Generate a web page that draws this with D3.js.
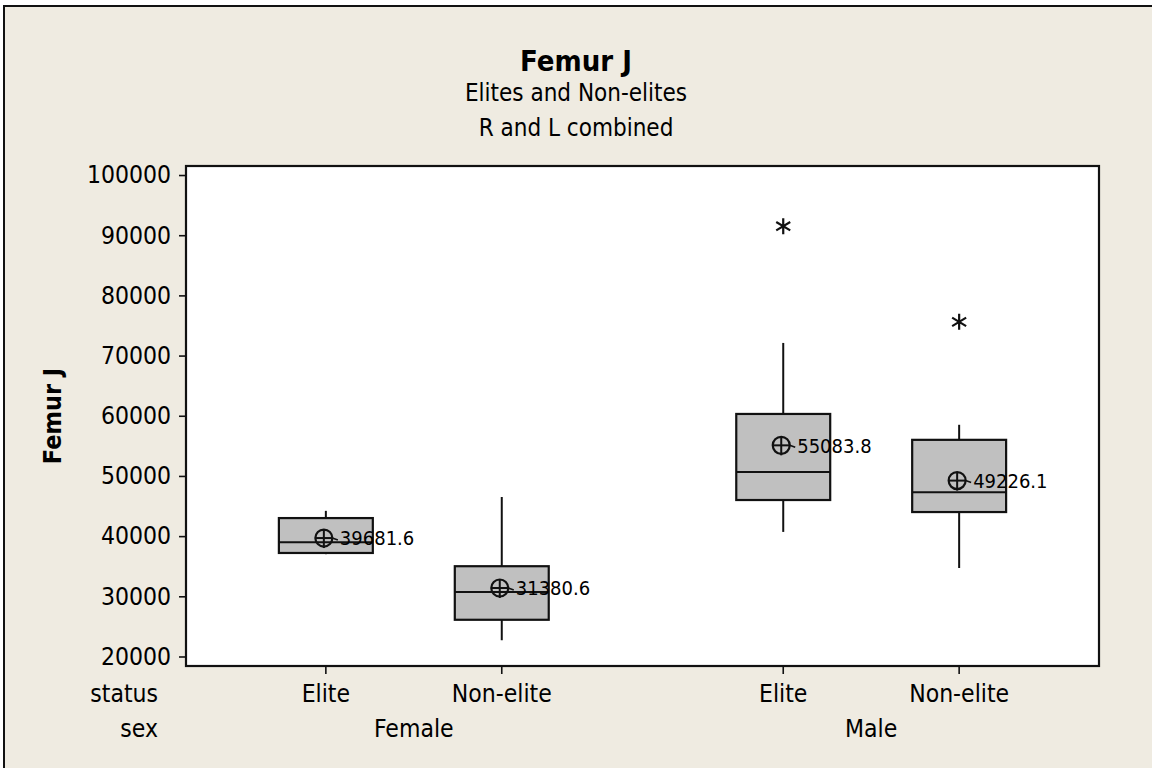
<!DOCTYPE html>
<html>
<head>
<meta charset="utf-8">
<script src="https://cdn.jsdelivr.net/npm/d3@7"></script>
<style>
  html, body { margin: 0; padding: 0; background: #ffffff; }
  svg text { font-family: "DejaVu Sans Condensed", "DejaVu Sans", "Liberation Sans", sans-serif; font-stretch: condensed; fill: #000; }
</style>
</head>
<body>
<svg id="chart" width="1152" height="768"></svg>
<script>
// ---- data ----
const sexes = ["Female", "Female", "Male", "Male"];
const statuses = ["Elite", "Non-elite", "Elite", "Non-elite"];
const q1 = [37200, 26100, 46000, 44000];
const medians = [39000, 30700, 50650, 47300];
const q3 = [43000, 35000, 60300, 56000];
const whiskerLow = [37000, 22700, 40700, 34700];
const whiskerHigh = [44200, 46500, 72100, 58500];
const means = [39681.6, 31380.6, 55083.8, 49226.1];
const outliers = [[], [], [91500], [75600]];
const yTicks = [20000, 30000, 40000, 50000, 60000, 70000, 80000, 90000, 100000];
const titleText = "Femur J";
const subtitles = ["Elites and Non-elites", "R and L combined"];
const yLabel = "Femur J";

// ---- layout ----
const svg = d3.select("#chart");
const W = 1152, H = 768;
const plot = { left: 186, right: 1099, top: 166, bottom: 666 };
const groupGap = 0.6;

// background frame
svg.append("rect").attr("x", 4).attr("y", 6).attr("width", W + 10).attr("height", H + 10)
  .attr("fill", "#efebe1").attr("stroke", "#111").attr("stroke-width", 2);

// position of each box along x (index + gap between sex groups)
const sexGroups = Array.from(new Set(sexes));
const pos = sexes.map((s, i) => i + 1 + sexGroups.indexOf(s) * groupGap);
const margin = 0.795;
const x = d3.scaleLinear().domain([d3.min(pos) - margin, d3.max(pos) + margin]).range([plot.left, plot.right]);
const y = d3.scaleLinear().domain([18420, 101500]).range([plot.bottom, plot.top]);
const boxW = x(0.534) - x(0);

// plot area
svg.append("rect").attr("x", plot.left).attr("y", plot.top)
  .attr("width", plot.right - plot.left).attr("height", plot.bottom - plot.top)
  .attr("fill", "#ffffff").attr("stroke", "#111").attr("stroke-width", 2.2);

// titles
svg.append("text").attr("x", 576).attr("y", 71).attr("text-anchor", "middle")
  .attr("font-size", 29).attr("font-weight", "bold").text(titleText);
svg.selectAll("text.sub").data(subtitles).join("text").attr("class", "sub")
  .attr("x", 576).attr("y", (d, i) => 101 + i * 35).attr("text-anchor", "middle")
  .attr("font-size", 24).text(d => d);

// y axis
const yAxis = d3.axisLeft(y).tickValues(yTicks).tickSize(7).tickPadding(8).tickFormat(d3.format("d"));
const gy = svg.append("g").attr("transform", `translate(${plot.left},0)`).call(yAxis);
gy.select(".domain").remove();
gy.selectAll(".tick line").attr("stroke", "#111").attr("stroke-width", 1.6);
gy.selectAll(".tick text").attr("font-size", 24.5).attr("font-family", null);

svg.append("text").attr("transform", `translate(61,416) rotate(-90)`)
  .attr("text-anchor", "middle").attr("font-size", 25).attr("font-weight", "bold").text(yLabel);

// x axis ticks + labels
const gx = svg.append("g");
gx.selectAll("line").data(pos).join("line")
  .attr("x1", d => x(d)).attr("x2", d => x(d)).attr("y1", plot.bottom).attr("y2", plot.bottom + 8)
  .attr("stroke", "#111").attr("stroke-width", 1.6);
gx.selectAll("text.status").data(statuses).join("text").attr("class", "status")
  .attr("x", (d, i) => x(pos[i])).attr("y", 702).attr("text-anchor", "middle")
  .attr("font-size", 24.5).text(d => d);
const groupCenters = sexGroups.map(g => d3.mean(pos.filter((p, i) => sexes[i] === g)));
gx.selectAll("text.sex").data(sexGroups).join("text").attr("class", "sex")
  .attr("x", (d, i) => x(groupCenters[i])).attr("y", 737).attr("text-anchor", "middle")
  .attr("font-size", 24.5).text(d => d);
svg.append("text").attr("x", 158).attr("y", 702).attr("text-anchor", "end").attr("font-size", 24.5).text("status");
svg.append("text").attr("x", 158).attr("y", 737).attr("text-anchor", "end").attr("font-size", 24.5).text("sex");

// boxes
const boxes = svg.append("g");
pos.forEach((p, i) => {
  const cx = x(p);
  const g = boxes.append("g");
  // whiskers
  g.append("line").attr("x1", cx).attr("x2", cx).attr("y1", y(q3[i])).attr("y2", y(whiskerHigh[i]))
    .attr("stroke", "#111").attr("stroke-width", 2);
  g.append("line").attr("x1", cx).attr("x2", cx).attr("y1", y(q1[i])).attr("y2", y(whiskerLow[i]))
    .attr("stroke", "#111").attr("stroke-width", 2);
  // box
  g.append("rect").attr("x", cx - boxW / 2).attr("y", y(q3[i]))
    .attr("width", boxW).attr("height", y(q1[i]) - y(q3[i]))
    .attr("fill", "#c0c0c0").attr("stroke", "#111").attr("stroke-width", 2.2);
  // median
  g.append("line").attr("x1", cx - boxW / 2).attr("x2", cx + boxW / 2)
    .attr("y1", y(medians[i])).attr("y2", y(medians[i]))
    .attr("stroke", "#111").attr("stroke-width", 2);
  // mean symbol
  const my = y(means[i]);
  const mx = cx - 2;
  g.append("circle").attr("cx", mx).attr("cy", my).attr("r", 8.5)
    .attr("fill", "none").attr("stroke", "#111").attr("stroke-width", 2.2);
  g.append("line").attr("x1", mx - 8.5).attr("x2", mx + 8.5).attr("y1", my).attr("y2", my)
    .attr("stroke", "#111").attr("stroke-width", 2);
  g.append("line").attr("x1", mx).attr("x2", mx).attr("y1", my - 8.5).attr("y2", my + 10)
    .attr("stroke", "#111").attr("stroke-width", 2);
  g.append("line").attr("x1", mx + 8.5).attr("x2", mx + 14).attr("y1", my).attr("y2", my + 2)
    .attr("stroke", "#111").attr("stroke-width", 1.6);
  g.append("text").attr("x", mx + 16).attr("y", my).attr("dy", "0.36em")
    .attr("font-size", 20).text(means[i].toFixed(1));
  // outliers
  outliers[i].forEach(v => {
    const oy = y(v), s = 7;
    g.append("path")
      .attr("d", `M${cx},${oy - s - 1}V${oy + s + 1}M${cx - s},${oy - s * 0.6}L${cx + s},${oy + s * 0.6}M${cx - s},${oy + s * 0.6}L${cx + s},${oy - s * 0.6}`)
      .attr("stroke", "#111").attr("stroke-width", 2.2).attr("fill", "none");
  });
});
</script>
</body>
</html>
